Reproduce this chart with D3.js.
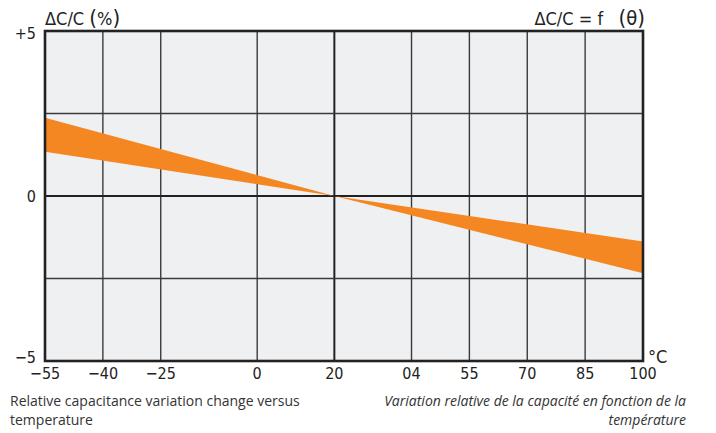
<!DOCTYPE html>
<html><head><meta charset="utf-8">
<script src="https://cdn.jsdelivr.net/npm/d3@7/dist/d3.min.js"></script>
<style>
html,body{margin:0;padding:0;background:#fff;}
svg{display:block;}
</style></head>
<body>
<svg id="chart" width="716" height="433"></svg>
<script>
// ---- data ----
const xTicks = [-55, -40, -25, 0, 20, 40, 55, 70, 85, 100];
const xTickLabels = ["−55", "−40", "−25", "0", "20", "04", "55", "70", "85", "100"];
const yGrid = [-5, -2.5, 0, 2.5, 5];
const yTicks = [-5, 0, 5];
const yTickLabels = ["−5", "0", "+5"];
const bandTemps = [-55, 20, 100];
const bandUpper = [2.37, 0, -1.38];
const bandLower = [1.34, 0, -2.34];
const captionEn = ["Relative capacitance variation change versus", "temperature"];
const captionFr = ["Variation relative de la capacité en fonction de la", "température"];

const svg = d3.select("#chart");
const W = 716, H = 433;
const m = {left: 45, right: 73, top: 31, bottom: 72};
const x = d3.scaleLinear().domain([-55, 100]).range([m.left, W - m.right]);
const y = d3.scaleLinear().domain([-5, 5]).range([H - m.bottom, m.top]);
const font = "'DejaVu Sans Condensed','Liberation Sans Narrow','DejaVu Sans',sans-serif";

// plot background
svg.append("rect").attr("x", x(-55)).attr("y", y(5))
  .attr("width", x(100) - x(-55)).attr("height", y(-5) - y(5)).attr("fill", "#eff0f2");

// grid
const g = svg.append("g");
g.selectAll("line.v").data(xTicks.slice(1, -1)).join("line")
  .attr("x1", d => x(d)).attr("x2", d => x(d))
  .attr("y1", y(5)).attr("y2", y(-5))
  .attr("stroke", d => d === 20 ? "#222" : "#3a3a3a")
  .attr("stroke-width", d => d === 20 ? 2 : 1.4);
g.selectAll("line.h").data(yGrid.slice(1, -1)).join("line")
  .attr("y1", d => y(d)).attr("y2", d => y(d))
  .attr("x1", x(-55)).attr("x2", x(100))
  .attr("stroke", d => d === 0 ? "#222" : "#3a3a3a")
  .attr("stroke-width", d => d === 0 ? 2 : 1.4);

// band
const bandData = bandTemps.map((t, i) => ({t, hi: bandUpper[i], lo: bandLower[i]}));
svg.append("path").datum(bandData)
  .attr("d", d3.area().x(d => x(d.t)).y0(d => y(d.lo)).y1(d => y(d.hi)))
  .attr("fill", "#f58722");

// border
svg.append("rect").attr("x", x(-55)).attr("y", y(5))
  .attr("width", x(100) - x(-55)).attr("height", y(-5) - y(5))
  .attr("fill", "none").attr("stroke", "#222").attr("stroke-width", 2.6);

// x tick labels
svg.append("g").selectAll("text").data(xTicks).join("text")
  .attr("x", d => x(d)).attr("y", H - m.bottom + 18)
  .attr("text-anchor", "middle")
  .attr("font-family", font).attr("font-size", 16).attr("fill", "#222")
  .text((d, i) => xTickLabels[i]);

// y tick labels
svg.append("g").selectAll("text").data(yTicks).join("text")
  .attr("x", m.left - 9)
  .attr("y", d => y(d) + (d === -5 ? -4 : d === 5 ? 2 : 0))
  .attr("dy", "0.35em")
  .attr("text-anchor", "end")
  .attr("font-family", font).attr("font-size", 16).attr("fill", "#222")
  .text((d, i) => yTickLabels[i]);

// unit
svg.append("text").attr("x", x(100) + 5).attr("y", H - m.bottom + 2)
  .attr("font-family", font).attr("font-size", 18).attr("fill", "#222")
  .text("°C");

// titles
const t1 = svg.append("text").attr("x", m.left).attr("y", 25)
  .attr("font-family", font).attr("font-size", 18).attr("fill", "#222");
t1.append("tspan").text("ΔC/C  ");
t1.append("tspan").attr("font-size", 22).text("(");
t1.append("tspan").text("%");
t1.append("tspan").attr("font-size", 22).text(")");
const t2 = svg.append("text").attr("x", x(100) + 2).attr("y", 25).attr("text-anchor", "end")
  .attr("font-family", font).attr("font-size", 18).attr("fill", "#222")
  .attr("xml:space", "preserve");
t2.append("tspan").text("ΔC/C = f   ");
t2.append("tspan").attr("font-size", 22).text("(");
t2.append("tspan").attr("font-size", 20).text("θ");
t2.append("tspan").attr("font-size", 22).text(")");

// captions
const capFont = "'Open Sans','Noto Sans',sans-serif";
svg.append("g").selectAll("text").data(captionEn).join("text")
  .attr("x", 10).attr("y", (d, i) => 406 + i * 19)
  .attr("font-family", capFont).attr("font-size", 14).attr("fill", "#333")
  .text(d => d);
svg.append("g").selectAll("text").data(captionFr).join("text")
  .attr("x", 686).attr("y", (d, i) => 406 + i * 19)
  .attr("text-anchor", "end").attr("font-style", "italic")
  .attr("font-family", capFont).attr("font-size", 14).attr("fill", "#333")
  .text(d => d);
</script>
</body></html>
